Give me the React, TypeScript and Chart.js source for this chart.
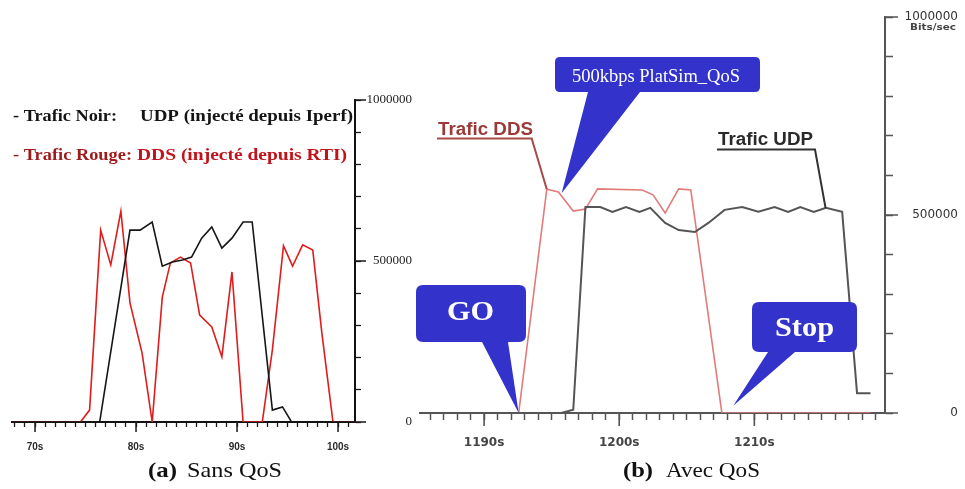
import React, { useEffect, useRef } from 'react';
import { Chart, registerables } from 'chart.js';

Chart.register(...registerables);

// ---------------- (a) Sans QoS ----------------
const LEFT_UDP_T = [67.72, 76.4, 79.4, 80.4, 81.6, 82.6, 83.6, 84.6, 85.5, 86.5, 87.5, 88.5, 89.5, 90.6, 91.5, 93.5, 94.5, 95.4, 101.68];
const LEFT_UDP_V = [0, 0, 596000, 596000, 621000, 484000, 497000, 503000, 512000, 571000, 606000, 540000, 571000, 621000, 621000, 37000, 47000, 0, 0];
const LEFT_DDS_T = [67.72, 74.5, 75.4, 76.5, 77.5, 78.5, 79.4, 80.6, 81.6, 82.6, 83.4, 84.4, 85.4, 86.3, 87.5, 88.5, 89.5, 90.6, 92.5, 93.5, 94.6, 95.5, 96.5, 97.5, 98.4, 99.5, 101.68];
const LEFT_DDS_V = [0, 0, 37000, 596000, 488000, 655000, 370000, 214000, 0, 388000, 494000, 512000, 494000, 332000, 295000, 202000, 466000, 0, 0, 224000, 547000, 484000, 550000, 534000, 276000, 0, 0];
const LEFT_X_MIN = 67.72;
const LEFT_X_MAX = 101.68;
const LEFT_X_TICKS = Array.from({ length: 34 }, (_, i) => 68 + i);
const LEFT_X_LABELS = [70, 80, 90, 100];

// ---------------- (b) Avec QoS ----------------
const RIGHT_UDP_T = [1185.24, 1195.7, 1196.6, 1197.5, 1198.6, 1199.5, 1200.5, 1201.5, 1202.3, 1203.4, 1204.4, 1205.6, 1206.6, 1207.8, 1209.1, 1210.3, 1211.5, 1212.5, 1213.4, 1214.4, 1215.3, 1216.5, 1217.6, 1218.6];
const RIGHT_UDP_V = [0, 0, 8000, 520000, 520000, 508000, 520000, 508000, 518000, 480000, 462000, 457000, 480000, 513000, 520000, 508000, 520000, 508000, 520000, 508000, 518000, 508000, 50000, 50000];
const RIGHT_DDS_T = [1185.24, 1192.56, 1194.64, 1195.5, 1196.6, 1197.5, 1198.4, 1201.7, 1202.5, 1203.4, 1204.4, 1205.3, 1207.6, 1218.6];
const RIGHT_DDS_V = [0, 0, 565000, 558000, 510000, 515000, 566000, 563000, 551000, 505000, 566000, 563000, 0, 0];
const RIGHT_X_MIN = 1185.24;
const RIGHT_X_MAX = 1219.67;
const RIGHT_X_TICKS = Array.from({ length: 34 }, (_, i) => 1186 + i);
const RIGHT_X_LABELS = [1190, 1200, 1210];

// annotation anchors (data units)
const ANCHOR_DDS_LABEL = [1194.64, 565000];
const ANCHOR_UDP_LABEL = [1215.27, 518000];
const ANCHOR_PLATSIM = [1195.74, 555000];
const ANCHOR_GO = [1192.56, 0];
const ANCHOR_STOP = [1208.44, 18000];

// shared y axis
const Y_TICKS = Array.from({ length: 11 }, (_, i) => i * 100000);
const Y_LABELS = [0, 500000, 1000000];

const CALLOUT_BLUE = '#3333cc';

function fillFit(ctx: CanvasRenderingContext2D, text: string, x: number, y: number, w: number, font: string, color: string) {
  ctx.save();
  ctx.font = font;
  ctx.fillStyle = color;
  ctx.textBaseline = 'alphabetic';
  ctx.textAlign = 'left';
  const m = ctx.measureText(text).width || 1;
  ctx.translate(x, y);
  ctx.scale(w / m, 1);
  ctx.fillText(text, 0, 0);
  ctx.restore();
}

function callout(ctx: CanvasRenderingContext2D, x0: number, y0: number, x1: number, y1: number, b0: number, b1: number, tx: number, ty: number, r: number) {
  ctx.beginPath();
  ctx.moveTo(x0 + r, y0);
  ctx.lineTo(x1 - r, y0);
  ctx.quadraticCurveTo(x1, y0, x1, y0 + r);
  ctx.lineTo(x1, y1 - r);
  ctx.quadraticCurveTo(x1, y1, x1 - r, y1);
  ctx.lineTo(b1, y1);
  ctx.lineTo(tx, ty);
  ctx.lineTo(b0, y1);
  ctx.lineTo(x0 + r, y1);
  ctx.quadraticCurveTo(x0, y1, x0, y1 - r);
  ctx.lineTo(x0, y0 + r);
  ctx.quadraticCurveTo(x0, y0, x0 + r, y0);
  ctx.closePath();
  ctx.fillStyle = CALLOUT_BLUE;
  ctx.fill();
}

function majorTicks(chart: any, xVals: number[], xLen: number, yVals: number[], yLen: number, color: string, width: number) {
  const { ctx, chartArea } = chart;
  const xs = chart.scales.x;
  const ys = chart.scales.y;
  ctx.save();
  ctx.strokeStyle = color;
  ctx.lineWidth = width;
  ctx.beginPath();
  xVals.forEach((v) => {
    const px = xs.getPixelForValue(v);
    ctx.moveTo(px, chartArea.bottom);
    ctx.lineTo(px, chartArea.bottom + xLen);
  });
  yVals.forEach((v) => {
    const py = ys.getPixelForValue(v);
    ctx.moveTo(chartArea.right, py);
    ctx.lineTo(chartArea.right + yLen, py);
  });
  ctx.stroke();
  ctx.restore();
}

const pts = (t: number[], v: number[]) => t.map((x, i) => ({ x, y: v[i] }));

const LEFT_W = 414;
const RIGHT_OX = 414;
const RIGHT_W = 551;
const H = 489;

export default function App() {
  const leftRef = useRef<HTMLCanvasElement>(null);
  const rightRef = useRef<HTMLCanvasElement>(null);

  useEffect(() => {
    const legendFont = 'bold 17px "Liberation Serif"';
    const leftOverlay = {
      id: 'leftOverlay',
      afterDraw(chart: any) {
        majorTicks(chart, LEFT_X_LABELS, 10, Y_LABELS, 11, '#1a1a1a', 1.5);
        const ctx = chart.ctx as CanvasRenderingContext2D;
        // legend text
        fillFit(ctx, '- Trafic Noir:', 13, 121, 104, legendFont, '#141414');
        fillFit(ctx, 'UDP (injecté depuis Iperf)', 140, 121, 213, legendFont, '#141414');
        fillFit(ctx, '- Trafic Rouge:', 13, 160, 119, legendFont, '#9e1b1b');
        fillFit(ctx, 'DDS (injecté depuis RTI)', 137, 160, 210, legendFont, '#c0141c');
        // caption
        fillFit(ctx, '(a)', 148, 477, 29, 'bold 21px "Liberation Serif"', '#111');
        fillFit(ctx, 'Sans QoS', 187, 477, 95, '21px "Liberation Serif"', '#111');
      },
    };

    const left = new Chart(leftRef.current as HTMLCanvasElement, {
      type: 'line',
      data: {
        datasets: [
          { data: pts(LEFT_UDP_T, LEFT_UDP_V), borderColor: '#161616', borderWidth: 1.6, pointRadius: 0, tension: 0 },
          { data: pts(LEFT_DDS_T, LEFT_DDS_V), borderColor: '#e01c1c', borderWidth: 1.6, pointRadius: 0, tension: 0 },
        ],
      },
      options: {
        animation: false,
        responsive: false,
        maintainAspectRatio: false,
        events: [],
        layout: { padding: { left: 12, top: 100, right: 2, bottom: 0 } },
        plugins: { legend: { display: false }, tooltip: { enabled: false } },
        scales: {
          x: {
            type: 'linear',
            position: 'bottom',
            min: LEFT_X_MIN,
            max: LEFT_X_MAX,
            afterBuildTicks: (s: any) => { s.ticks = LEFT_X_TICKS.map((value) => ({ value })); },
            afterFit: (s: any) => { s.height = H - 422; },
            grid: { drawOnChartArea: false, drawTicks: true, tickLength: 5, tickColor: '#1a1a1a', tickWidth: 1.3 },
            border: { display: true, color: '#111', width: 2 },
            ticks: {
              autoSkip: false, maxRotation: 0, minRotation: 0, padding: 14,
              color: '#2a2a2a', font: { family: 'Liberation Sans', size: 10, weight: 'bold' },
              callback: (v: any) => (LEFT_X_LABELS.includes(v) ? `${v}s` : ''),
            },
          },
          y: {
            type: 'linear',
            position: 'right',
            min: 0,
            max: 1000000,
            afterBuildTicks: (s: any) => { s.ticks = Y_TICKS.map((value) => ({ value })); },
            afterFit: (s: any) => { s.width = LEFT_W - 2 - 355; },
            grid: { drawOnChartArea: false, drawTicks: true, tickLength: 6, tickColor: '#1a1a1a', tickWidth: 1.3 },
            border: { display: true, color: '#111', width: 2 },
            ticks: {
              autoSkip: false, crossAlign: 'far', padding: 4,
              color: '#222', font: { family: 'Liberation Serif', size: 13 },
              callback: (v: any) => (Y_LABELS.includes(v) ? String(v) : ''),
            },
          },
        },
      } as any,
      plugins: [leftOverlay],
    });

    const rightOverlay = {
      id: 'rightOverlay',
      afterDraw(chart: any) {
        majorTicks(chart, RIGHT_X_LABELS, 13, Y_LABELS, 13, '#555', 1.6);
        const ctx = chart.ctx as CanvasRenderingContext2D;
        const xs = chart.scales.x;
        const ys = chart.scales.y;
        const P = (a: number[]) => [xs.getPixelForValue(a[0]) + RIGHT_OX, ys.getPixelForValue(a[1])];
        ctx.save();
        ctx.translate(-RIGHT_OX, 0);

        // axis unit
        fillFit(ctx, 'Bits/sec', 910, 30, 46, 'bold 8px "DejaVu Sans"', '#444');

        // Trafic DDS label + leader
        const dds = P(ANCHOR_DDS_LABEL);
        fillFit(ctx, 'Trafic DDS', 438, 135, 95, 'bold 18px "Liberation Sans"', '#9a3a38');
        ctx.strokeStyle = '#a84a48';
        ctx.lineWidth = 2;
        ctx.beginPath();
        ctx.moveTo(437, 138.5);
        ctx.lineTo(531.7, 138.5);
        ctx.lineTo(dds[0], dds[1]);
        ctx.stroke();

        // Trafic UDP label + leader
        const udp = P(ANCHOR_UDP_LABEL);
        fillFit(ctx, 'Trafic UDP', 718, 145, 95, 'bold 18px "Liberation Sans"', '#2a2a2a');
        ctx.strokeStyle = '#333';
        ctx.beginPath();
        ctx.moveTo(717, 149.5);
        ctx.lineTo(815, 149.5);
        ctx.lineTo(udp[0], udp[1]);
        ctx.stroke();

        // callouts
        const ps = P(ANCHOR_PLATSIM);
        callout(ctx, 555, 57, 760, 92, 588, 640, ps[0], ps[1], 5);
        fillFit(ctx, '500kbps PlatSim_QoS', 572, 82, 168, '18px "Liberation Serif"', '#ffffff');

        const go = P(ANCHOR_GO);
        callout(ctx, 416, 285, 526, 342, 482, 508, go[0], go[1], 7);
        fillFit(ctx, 'GO', 447, 320, 47, 'bold 27px "Liberation Serif"', '#ffffff');

        const st = P(ANCHOR_STOP);
        callout(ctx, 752, 302, 857, 352, 768, 795, st[0], st[1], 7);
        fillFit(ctx, 'Stop', 775, 336, 59, 'bold 27px "Liberation Serif"', '#ffffff');

        // caption
        fillFit(ctx, '(b)', 623, 477, 30, 'bold 21px "Liberation Serif"', '#111');
        fillFit(ctx, 'Avec QoS', 666, 477, 94, '21px "Liberation Serif"', '#111');
        ctx.restore();
      },
    };

    const right = new Chart(rightRef.current as HTMLCanvasElement, {
      type: 'line',
      data: {
        datasets: [
          { data: pts(RIGHT_UDP_T, RIGHT_UDP_V), borderColor: '#555555', borderWidth: 2, pointRadius: 0, tension: 0 },
          { data: pts(RIGHT_DDS_T, RIGHT_DDS_V), borderColor: '#e27a7a', borderWidth: 1.6, pointRadius: 0, tension: 0 },
        ],
      },
      options: {
        animation: false,
        responsive: false,
        maintainAspectRatio: false,
        events: [],
        layout: { padding: { left: 1, top: 17, right: 7, bottom: 0 } },
        plugins: { legend: { display: false }, tooltip: { enabled: false } },
        scales: {
          x: {
            type: 'linear',
            position: 'bottom',
            min: RIGHT_X_MIN,
            max: RIGHT_X_MAX,
            afterBuildTicks: (s: any) => { s.ticks = RIGHT_X_TICKS.map((value) => ({ value })); },
            afterFit: (s: any) => { s.height = H - 413; },
            grid: { drawOnChartArea: false, drawTicks: true, tickLength: 7, tickColor: '#555', tickWidth: 1.5 },
            border: { display: true, color: '#555', width: 2 },
            ticks: {
              autoSkip: false, maxRotation: 0, minRotation: 0, padding: 16,
              color: '#444', font: { family: 'DejaVu Sans', size: 12, weight: 'bold' },
              callback: (v: any) => (RIGHT_X_LABELS.includes(v) ? `${v}s` : ''),
            },
          },
          y: {
            type: 'linear',
            position: 'right',
            min: 0,
            max: 1000000,
            afterBuildTicks: (s: any) => { s.ticks = Y_TICKS.map((value) => ({ value })); },
            afterFit: (s: any) => { s.width = RIGHT_W - 7 - 471; },
            grid: { drawOnChartArea: false, drawTicks: true, tickLength: 8, tickColor: '#555', tickWidth: 1.5 },
            border: { display: true, color: '#555', width: 2 },
            ticks: {
              autoSkip: false, crossAlign: 'far', padding: 4,
              color: '#333', font: { family: 'DejaVu Sans', size: 12 },
              callback: (v: any) => (Y_LABELS.includes(v) ? String(v) : ''),
            },
          },
        },
      } as any,
      plugins: [rightOverlay],
    });

    return () => {
      left.destroy();
      right.destroy();
    };
  }, []);

  return (
    <div style={{ position: 'absolute', left: 0, top: 0, width: 965, height: H, background: '#fff', overflow: 'hidden' }}>
      <canvas ref={leftRef} width={LEFT_W} height={H} style={{ position: 'absolute', left: 0, top: 0, width: LEFT_W, height: H }} />
      <canvas ref={rightRef} width={RIGHT_W} height={H} style={{ position: 'absolute', left: RIGHT_OX, top: 0, width: RIGHT_W, height: H }} />
    </div>
  );
}
